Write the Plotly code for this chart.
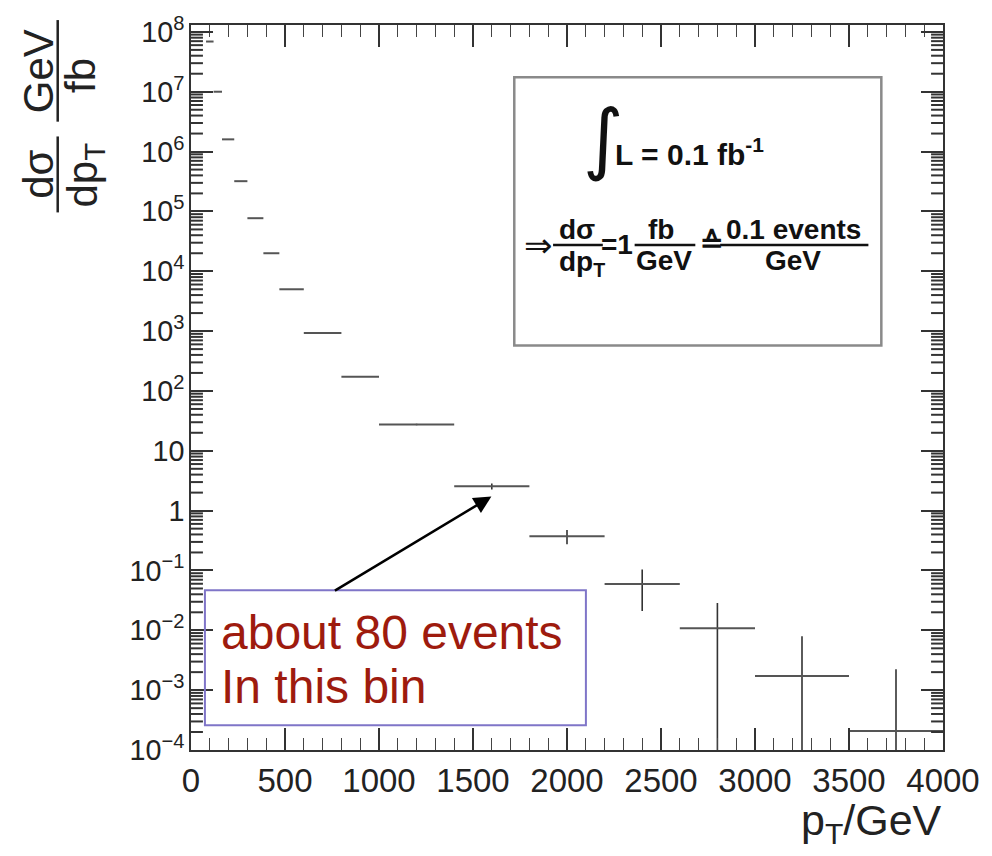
import math
import numpy as np
import plotly.graph_objects as go

# ---- data ----
bin_lo = [80, 120, 165, 230, 300, 385, 470, 600, 800, 1000, 1400, 1800, 2200, 2600, 3000, 3500]
bin_hi = [120, 165, 230, 300, 385, 470, 600, 800, 1000, 1400, 1800, 2200, 2600, 3000, 3500, 4000]
dsigma = [6.9e7, 1.0e7, 1.6e6, 3.2e5, 7.7e4, 2.0e4, 5.0e3, 930, 172, 27.5, 2.55, 0.373,
          0.0596, 0.0108, 0.00173, 2.08e-4]
err_up = [0, 0, 0, 0, 0, 0, 0, 0, 0, 0.8, 0.3, 0.1, 0.044, 0.0178, 0.0062, 0.00203]
err_dn = [0, 0, 0, 0, 0, 0, 0, 0, 0, 0.8, 0.3, 0.1, 0.0385, 0.0108, 0.00173, 2.08e-4]

x_ticks = [0, 500, 1000, 1500, 2000, 2500, 3000, 3500, 4000]
y_decades = [-4, -3, -2, -1, 0, 1, 2, 3, 4, 5, 6, 7, 8]

lo = np.array(bin_lo, float)
hi = np.array(bin_hi, float)
centers = (lo + hi) / 2
halfw = (hi - lo) / 2

# ---- geometry of plot area (pixels) ----
W, H = 992, 856
L, R, T, B = 191, 947, 15, 750
PW, PH = R - L, B - T
Y_RANGE = [-4, 8.115]


def px(x):
    return (x - L) / PW


def py(y):
    return (B - y) / PH


fig = go.Figure()
fig.add_trace(go.Scatter(
    x=centers, y=dsigma, mode="markers",
    marker=dict(size=0, color="rgba(0,0,0,0)"),
    error_x=dict(type="data", array=halfw, symmetric=True, color="#555", thickness=2, width=0),
    error_y=dict(type="data", array=err_up, arrayminus=err_dn, symmetric=False,
                 color="#333", thickness=1.6, width=0),
    showlegend=False, hoverinfo="skip",
))

fig.update_layout(
    xaxis=dict(
        range=[0, 4000], tickmode="array", tickvals=x_ticks,
        tickfont=dict(family="Liberation Sans", size=33, color="#222"),
        showline=True, linecolor="#333", linewidth=2, mirror="ticks",
        ticks="inside", tickcolor="#333", tickwidth=1.6, ticklen=22,
        minor=dict(ticks="inside", dtick=100, ticklen=12, tickcolor="#444", tickwidth=1.3, showgrid=False),
        showgrid=False, zeroline=False,
    ),
    yaxis=dict(
        type="log", range=Y_RANGE, tickmode="linear", tick0=0, dtick=1,
        exponentformat="power",
        tickfont=dict(family="Liberation Sans", size=23, color="#222"),
        showline=True, linecolor="#333", linewidth=2, mirror="ticks",
        ticks="inside", tickcolor="#333", tickwidth=1.6, ticklen=22,
        showgrid=False, zeroline=False,
    ),
)

ann = []
shapes = []

# ---- minor log ticks on left and right frame (axis decoration, paper coords) ----
tick_w = 12 / PW
for d in y_decades:
    for m in range(2, 10):
        lv = math.log10(m) + d
        if Y_RANGE[0] < lv < Y_RANGE[1]:
            yp = (lv - Y_RANGE[0]) / (Y_RANGE[1] - Y_RANGE[0])
            for x0, x1 in [(0, tick_w), (1 - tick_w, 1)]:
                shapes.append(dict(type="line", xref="paper", yref="paper", x0=x0, x1=x1,
                                   y0=yp, y1=yp, layer="above",
                                   line=dict(color="#333", width=2)))

# ---- y axis title as two stacked fractions (rotated) ----
yfont = dict(family="Liberation Sans", size=42, color="#222")
for txt, cx, cy in [("dσ", 38, 166), ("dp<sub>T</sub>", 85, 167), ("GeV", 38, 62), ("fb", 80, 66)]:
    ann.append(dict(text=txt, x=px(cx), y=py(cy), xref="paper", yref="paper",
                    showarrow=False, textangle=-90, xanchor="center", yanchor="middle", font=yfont))
for y0, y1 in [(128, 205), (10, 113)]:
    shapes.append(dict(type="line", xref="paper", yref="paper", x0=px(57), x1=px(57),
                       y0=py(y0), y1=py(y1), line=dict(color="#222", width=2.5)))

# ---- x axis title ----
ann.append(dict(text="p<sub>T</sub>/GeV", x=px(948), y=py(824), xref="paper", yref="paper",
                showarrow=False, xanchor="right", yanchor="middle",
                font=dict(family="Liberation Sans", size=43, color="#222")))

# ---- inset box with luminosity text ----
shapes.append(dict(type="rect", xref="paper", yref="paper", x0=px(516), x1=px(885),
                   y0=py(340), y1=py(68), line=dict(color="#8a8a8a", width=2.5)))
bf = dict(family="Liberation Sans", size=28, color="#111", weight="bold")
ann.append(dict(text="∫", x=px(606), y=py(130), xref="paper", yref="paper", showarrow=False,
                xanchor="center", yanchor="middle",
                font=dict(family="DejaVu Sans", size=78, color="#111")))
ann.append(dict(text="L = 0.1 fb<sup>-1</sup>", x=px(615), y=py(144), xref="paper", yref="paper",
                showarrow=False, xanchor="left", yanchor="middle", font=dict(bf, size=30)))
ann.append(dict(text="⇒", x=px(540), y=py(238), xref="paper", yref="paper", showarrow=False,
                xanchor="center", yanchor="middle",
                font=dict(family="DejaVu Sans", size=34, color="#111")))
for txt, cx, cy in [("dσ", 579, 222), ("dp<sub>T</sub>", 584, 257),
                    ("=1", 619, 238), ("fb", 664, 222), ("GeV", 667, 254),
                    ("≙", 714, 236), ("0.1 events", 797, 222), ("GeV", 796, 254)]:
    ann.append(dict(text=txt, x=px(cx), y=py(cy), xref="paper", yref="paper", showarrow=False,
                    xanchor="center", yanchor="middle", font=bf))
for x0, x1 in [(555, 605), (637, 698), (723, 872)]:
    shapes.append(dict(type="line", xref="paper", yref="paper", x0=px(x0), x1=px(x1),
                       y0=py(238), y1=py(238), line=dict(color="#111", width=2.5)))

# ---- "about 80 events" box and arrow ----
shapes.append(dict(type="rect", xref="paper", yref="paper", x0=px(205), x1=px(588),
                   y0=py(725), y1=py(588), line=dict(color="#7f75c8", width=2)))
rf = dict(family="Liberation Sans", size=48, color="#9e1b0e")
ann.append(dict(text="about 80 events", x=px(219), y=py(631), xref="paper", yref="paper",
                showarrow=False, xanchor="left", yanchor="middle", font=rf))
ann.append(dict(text="In this bin", x=px(219), y=py(686), xref="paper", yref="paper",
                showarrow=False, xanchor="left", yanchor="middle", font=rf))
ann.append(dict(text="", x=px(493), y=py(493), xref="paper", yref="paper", showarrow=True,
                ax=335 - 493, ay=588 - 493, arrowhead=2, arrowsize=1.4, arrowwidth=2.5,
                arrowcolor="#000", standoff=0))

fig.update_layout(
    width=W, height=H, autosize=False,
    margin=dict(l=L, r=W - R, t=T, b=H - B, pad=0),
    paper_bgcolor="white", plot_bgcolor="white",
    annotations=ann, shapes=shapes,
)

fig.write_html("out.html")
